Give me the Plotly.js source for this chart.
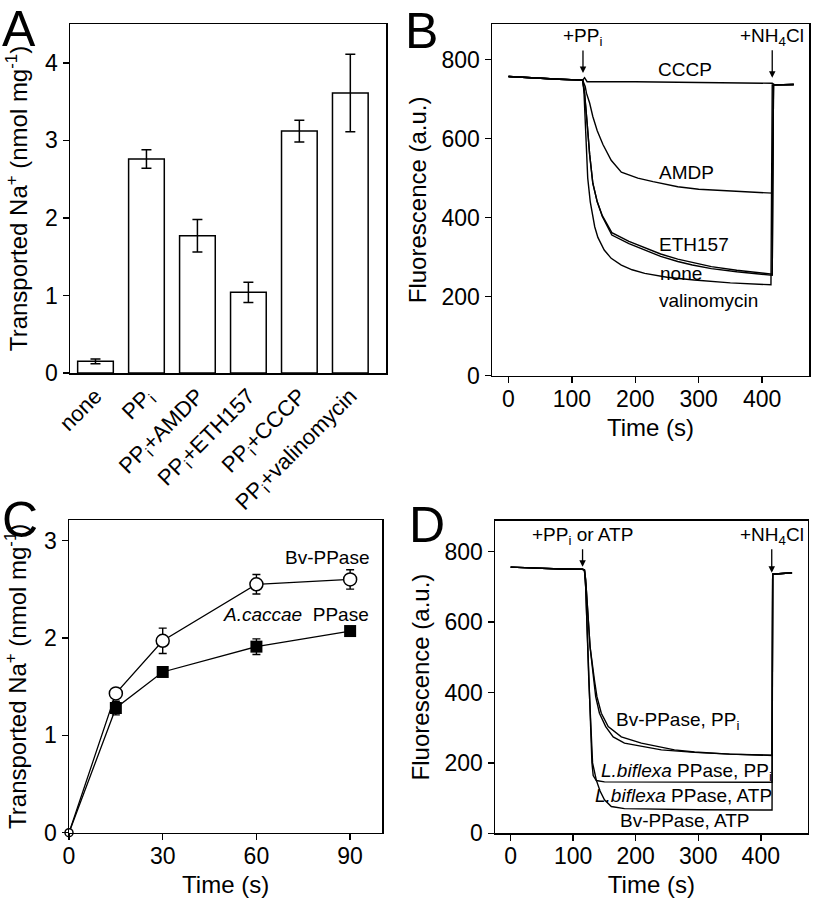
<!DOCTYPE html>
<html><head><meta charset="utf-8">
<script src="https://cdn.plot.ly/plotly-3.0.1.min.js"></script>
<style>html,body{margin:0;padding:0;background:#fff}#chart{width:814px;height:900px}</style>
</head><body><div id="chart"></div>
<script>
// ---------- Panel A: bars ----------
const aCategories = ['none','PP<sub>i</sub>','PP<sub>i</sub>+AMDP','PP<sub>i</sub>+ETH157','PP<sub>i</sub>+CCCP','PP<sub>i</sub>+valinomycin'];
const aValues = [0.15, 2.76, 1.77, 1.04, 3.12, 3.61];
const aErrors = [0.03, 0.12, 0.21, 0.13, 0.14, 0.50];

// ---------- Panel B: fluorescence traces ----------
const bCccpTime  = [0, 40, 80, 117, 120, 124, 200, 300, 380, 416, 420, 450];
const bCccpF     = [757, 753, 750, 748, 754, 744, 744, 742, 740, 740, 736, 737];
const bAmdpTime  = [0, 40, 80, 117, 121, 123, 128, 133, 140, 149, 162, 178, 204, 228, 267, 300, 350, 416, 418, 450];
const bAmdpF     = [757, 753, 750, 748, 732, 715, 690, 656, 620, 585, 545, 515, 500, 491, 478, 472, 467, 462, 736, 737];
const bEthTime   = [0, 40, 80, 117, 120, 124, 128, 133, 140, 148, 163, 190, 214, 240, 267, 290, 320, 360, 416, 418, 450];
const bEthF      = [757, 753, 750, 748, 715, 640, 560, 487, 440, 405, 362, 340, 324, 308, 295, 286, 276, 267, 257, 736, 737];
const bNoneTime  = [0, 40, 80, 117, 120, 124, 128, 133, 140, 148, 163, 190, 214, 240, 267, 290, 320, 360, 416, 418, 450];
const bNoneF     = [757, 753, 750, 748, 715, 640, 560, 487, 440, 403, 356, 334, 318, 302, 289, 280, 271, 263, 254, 736, 737];
const bValTime   = [0, 40, 80, 117, 119, 122, 125, 129, 136, 141, 151, 162, 178, 195, 215, 250, 293, 350, 414, 416, 450];
const bValF      = [757, 753, 750, 748, 720, 610, 500, 440, 377, 350, 318, 297, 280, 268, 259, 249, 242, 235, 230, 736, 737];

// ---------- Panel C: time course ----------
const cTime = [0, 15, 30, 60, 90];
const cBvValues = [0, 1.43, 1.97, 2.55, 2.60];
const cBvErrors = [0, 0.03, 0.13, 0.10, 0.10];
const cCaccaeValues = [0, 1.28, 1.65, 1.91, 2.07];
const cCaccaeErrors = [0, 0.07, 0.03, 0.08, 0.03];

// ---------- Panel D: fluorescence traces ----------
const dBvPpiTime  = [0, 40, 80, 115, 118, 120, 124, 127, 134, 138, 145, 156, 177, 209, 262, 294, 350, 418, 419, 450];
const dBvPpiF     = [756, 753, 751, 750, 748, 720, 625, 530, 435, 388, 341, 303, 274, 256, 237, 231, 225, 222, 736, 740];
const dLbPpiTime  = [0, 40, 80, 115, 118, 120, 124, 127, 133, 136, 142, 152, 164, 182, 241, 294, 350, 418, 419, 450];
const dLbPpiF     = [756, 753, 751, 750, 748, 720, 625, 530, 435, 388, 341, 303, 274, 256, 237, 230, 225, 221, 736, 740];
const dLbAtpTime  = [0, 40, 80, 115, 118, 120, 125, 130, 132, 137, 150, 250, 418, 419, 450];
const dLbAtpF     = [756, 753, 751, 750, 748, 700, 435, 200, 164, 150, 146, 145, 145, 736, 740];
const dBvAtpTime  = [0, 40, 80, 115, 118, 120, 125, 131, 137, 143, 150, 161, 182, 300, 418, 419, 450];
const dBvAtpF     = [756, 753, 751, 750, 748, 700, 435, 200, 151, 120, 95, 76, 70, 67, 66, 736, 740];

const FONT = 'Liberation Sans, Arial, sans-serif';
const W = 814, H = 900;
const px = v => v / W;
const py = v => 1 - v / H;

function lineTrace(x, y, xa, ya, w) {
  return {type: 'scatter', mode: 'lines', x: x, y: y, xaxis: xa, yaxis: ya, cliponaxis: false,
          line: {color: '#000', width: w || 1.4}, hoverinfo: 'skip', showlegend: false};
}
function errTrace(x, y, err) {
  return {type: 'scatter', mode: 'none', x: x, y: y, xaxis: 'x3', yaxis: 'y3', cliponaxis: false,
          error_y: {type: 'data', array: err, visible: true, color: '#000', thickness: 1.4, width: 4},
          showlegend: false, hoverinfo: 'skip'};
}
function markerTrace(x, y, marker) {
  return {type: 'scatter', mode: 'markers', x: x, y: y, xaxis: 'x3', yaxis: 'y3', cliponaxis: false,
          marker: marker, showlegend: false, hoverinfo: 'skip'};
}

const data = [
  {type: 'bar', x: aCategories, y: aValues, xaxis: 'x', yaxis: 'y', width: 0.7,
   marker: {color: '#fff', line: {color: '#000', width: 1.5}},
   error_y: {type: 'data', array: aErrors, visible: true, color: '#000', thickness: 1.5, width: 5},
   showlegend: false},
  lineTrace(bCccpTime, bCccpF, 'x2', 'y2'),
  lineTrace(bAmdpTime, bAmdpF, 'x2', 'y2'),
  lineTrace(bEthTime, bEthF, 'x2', 'y2'),
  lineTrace(bNoneTime, bNoneF, 'x2', 'y2'),
  lineTrace(bValTime, bValF, 'x2', 'y2'),
  lineTrace(cTime, cCaccaeValues, 'x3', 'y3', 1.3),
  lineTrace(cTime, cBvValues, 'x3', 'y3', 1.3),
  errTrace(cTime, cCaccaeValues, cCaccaeErrors),
  errTrace(cTime, cBvValues, cBvErrors),
  markerTrace(cTime, cCaccaeValues, {symbol: 'square', color: '#000', opacity: 1,
              size: cTime.map(t => t === 0 ? 0 : 12), line: {color: '#000', width: 0}}),
  markerTrace(cTime, cBvValues, {symbol: 'circle', color: '#fff', opacity: 1,
              size: cTime.map(t => t === 0 ? 8 : 13), line: {color: '#000', width: 1.5}}),
  lineTrace(dBvPpiTime, dBvPpiF, 'x4', 'y4'),
  lineTrace(dLbPpiTime, dLbPpiF, 'x4', 'y4'),
  lineTrace(dLbAtpTime, dLbAtpF, 'x4', 'y4'),
  lineTrace(dBvAtpTime, dBvAtpF, 'x4', 'y4'),
];

function axis(extra) {
  return Object.assign({
    showline: true, linecolor: '#000', linewidth: 1.5, mirror: true,
    ticks: 'outside', ticklen: 6, tickwidth: 1.5, tickcolor: '#000',
    showgrid: false, zeroline: false, fixedrange: true,
    tickfont: {family: FONT, size: 23, color: '#000'},
  }, extra);
}
const titleFont = {family: FONT, size: 24, color: '#000'};

const layout = {
  width: W, height: H,
  margin: {l: 0, r: 0, t: 0, b: 0},
  paper_bgcolor: '#fff', plot_bgcolor: '#fff',
  font: {family: FONT, color: '#000'},
  showlegend: false,
  xaxis: axis({domain: [px(70), px(386)], anchor: 'y', type: 'category', range: [-0.5, 5.7],
               ticks: '', tickangle: -45, tickfont: {family: FONT, size: 22, color: '#000'}}),
  yaxis: axis({domain: [py(373), py(24)], anchor: 'x', range: [0, 4.5], tickvals: [0,1,2,3,4],
               title: {text: 'Transported Na<sup>+</sup> (nmol mg<sup>-1</sup>)', font: titleFont, standoff: 10}}),
  xaxis2: axis({domain: [px(492), px(809)], anchor: 'y2', range: [-26, 474], tickvals: [0,100,200,300,400],
                ticklabelstandoff: -4, title: {text: 'Time (s)', font: titleFont, standoff: 8}}),
  yaxis2: axis({domain: [py(375.7), py(24)], anchor: 'x2', range: [0, 890], tickvals: [0,200,400,600,800],
                title: {text: 'Fluorescence (a.u.)', font: titleFont, standoff: 8}}),
  xaxis3: axis({domain: [px(69), px(382.3)], anchor: 'y3', range: [0, 100.3], tickvals: [0,30,60,90],
                ticklabelstandoff: -4, title: {text: 'Time (s)', font: titleFont, standoff: 8}}),
  yaxis3: axis({domain: [py(832.7), py(520)], anchor: 'x3', range: [0, 3.21], tickvals: [0,1,2,3],
                title: {text: 'Transported Na<sup>+</sup> (nmol mg<sup>-1</sup>)', font: titleFont, standoff: 10}}),
  xaxis4: axis({domain: [px(495), px(807.7)], anchor: 'y4', range: [-25, 475], tickvals: [0,100,200,300,400],
                ticklabelstandoff: -4, title: {text: 'Time (s)', font: titleFont, standoff: 8}}),
  yaxis4: axis({domain: [py(833.3), py(520.7)], anchor: 'x4', range: [0, 888], tickvals: [0,200,400,600,800],
                title: {text: 'Fluorescence (a.u.)', font: titleFont, standoff: 8}}),
  annotations: [],
};

const ann = layout.annotations;
const lblFont = {family: FONT, size: 19, color: '#000'};
// panel letters
[['A', 0, 29], ['B', 403, 31], ['C', 0, 520], ['D', 407, 525]].forEach(([t, x, y]) => {
  ann.push({text: t, xref: 'paper', yref: 'paper', x: px(x), y: py(y), xanchor: 'left', yanchor: 'middle',
            showarrow: false, font: {family: FONT, size: 50, color: '#000'}});
});
// panel B labels
[['CCCP', 278, 775], ['AMDP', 280, 515], ['ETH157', 292, 331], ['none', 272, 259], ['valinomycin', 316, 190]].forEach(([t, x, y]) => {
  ann.push({text: t, xref: 'x2', yref: 'y2', x: x, y: y, showarrow: false, font: lblFont});
});
// arrows in B
ann.push({text: '+PP<sub>i</sub>', xref: 'x2', yref: 'y2', x: 117.5, y: 766, ax: 0, ay: -36,
          showarrow: true, arrowhead: 2, arrowsize: 1, arrowwidth: 1.3, arrowcolor: '#000', font: lblFont});
ann.push({text: '+NH<sub>4</sub>Cl', xref: 'x2', yref: 'y2', x: 416, y: 754, ax: 0, ay: -41,
          showarrow: true, arrowhead: 2, arrowsize: 1, arrowwidth: 1.3, arrowcolor: '#000', font: lblFont});
// panel C labels
ann.push({text: 'Bv-PPase', xref: 'x3', yref: 'y3', x: 96.8, y: 2.83, xanchor: 'right', showarrow: false, font: lblFont});
ann.push({text: '<i>A.caccae</i>  PPase', xref: 'x3', yref: 'y3', x: 96.8, y: 2.245, xanchor: 'right', showarrow: false, font: lblFont});
// panel D labels
[['Bv-PPase, PP<sub>i</sub>', 267, 320], ['<i>L.biflexa</i> PPase, PP<sub>i</sub>', 280.5, 175], ['<i>L.biflexa</i> PPase, ATP', 277, 106], ['Bv-PPase, ATP', 279, 35]].forEach(([t, x, y]) => {
  ann.push({text: t, xref: 'x4', yref: 'y4', x: x, y: y, showarrow: false, font: lblFont});
});
ann.push({text: '+PP<sub>i</sub> or ATP', xref: 'x4', yref: 'y4', x: 115, y: 757, ax: 0, ay: -31,
          showarrow: true, arrowhead: 2, arrowsize: 1, arrowwidth: 1.3, arrowcolor: '#000', font: lblFont});
ann.push({text: '+NH<sub>4</sub>Cl', xref: 'x4', yref: 'y4', x: 417.5, y: 740, ax: 0, ay: -37,
          showarrow: true, arrowhead: 2, arrowsize: 1, arrowwidth: 1.3, arrowcolor: '#000', font: lblFont});

Plotly.newPlot('chart', data, layout, {staticPlot: true, displayModeBar: false});
</script>
</body></html>
